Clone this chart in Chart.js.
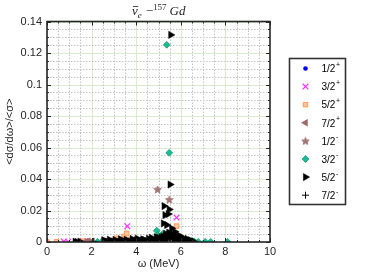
<!DOCTYPE html>
<html>
<head>
<meta charset="utf-8">
<script src="https://cdn.jsdelivr.net/npm/chart.js@4/dist/chart.umd.min.js"></script>
<style>
html,body{margin:0;padding:0;background:#fff;}
canvas{display:block;}
</style>
</head>
<body>
<canvas id="c" width="374" height="280"></canvas>
<script>
// ---- data (omega in MeV, normalized cross section) ----
const seriesLabels = ['1/2', '3/2', '5/2', '7/2', '1/2', '3/2', '5/2', '7/2'];
const seriesParity = ['+', '+', '+', '+', '-', '-', '-', '-'];

const s12p = [[1.7,0.0005],[3.3,0.0008],[4.4,0.0006],[5.1,0.001],[5.6,0.0012],[6.1,0.0004]];
const s32p = [[0.75,0.0003],[0.95,0.0002],[1.6,0.0006],[2.7,0.001],[3.6,0.0100],[3.5,0.0012],[4.6,0.0008],[5.3,0.002],[5.81,0.0155],[6.2,0.0005]];
const s52p = [[0,0],[0.43,0.0002],[1.6,0.0005],[1.9,0.0003],[2.6,0.0006],[3.12,0.0023],[3.45,0.0035],[3.57,0.0055],[3.7,0.0015],[5.81,0.0101],[5.9,0.004],[6.3,0.0012]];
const s72p = [[1.75,0.0003],[1.85,0.0005],[2.0,0.0002],[3.2,0.0008],[4.1,0.0005],[5.2,0.0015],[5.7,0.003]];
const s12m = [[4.96,0.0334],[5.48,0.027],[5.0,0.0008],[5.6,0.0015]];
const s32m = [[5.37,0.1252],[5.48,0.0566],[4.92,0.0072],[4.96,0.0044],[5.22,0.0055],[5.44,0.0055],[5.59,0.0065],[5.74,0.0055],
              [2.26,0.0001],[2.45,0.0003],[3.05,0.0008],[3.2,0.0005],[4.3,0.0006],[4.75,0.0012],[5.15,0.0023],
              [6.5,0.0008],[6.6,0.0003],[6.78,0.0001],[7.09,0.0001],[7.34,0.0001],[8.1,0.0001]];
const s52m = [[5.55,0.1315],[5.52,0.0365],[5.25,0.0228],[5.48,0.0207],[5.29,0.0171],[5.44,0.0177],[5.22,0.0118],[5.37,0.0108],
              [5.59,0.0087],[5.74,0.0065],[5.96,0.0038],[6.1,0.0025],[6.3,0.0012],
              [1.26,0.0002],[1.48,0.0003],[2.6,0.0004],[2.72,0.0002],[2.85,0.0006],[2.98,0.0003],[3.1,0.0005],[3.22,0.0002],
              [3.35,0.0007],[3.48,0.0004],[3.62,0.0009],[3.75,0.0003],[3.88,0.0006],[4.0,0.0011],[4.12,0.0004],[4.25,0.0008],
              [4.38,0.0013],[4.5,0.0005],[4.62,0.0010],[4.74,0.0016],[4.85,0.0007],[4.95,0.0020],[5.05,0.0012],[5.12,0.0030],
              [5.18,0.0018],[5.3,0.0040],[5.36,0.0025],[5.42,0.0033],[5.5,0.0045],[5.56,0.0028],[5.63,0.0038],[5.7,0.0022],
              [5.78,0.0030],[5.85,0.0015],[5.92,0.0024],[6.02,0.0010],[6.15,0.0014],[6.22,0.0006],[6.38,0.0004],[6.5,0.0002],[6.6,0.0001],
              [1.35,0.0001],[2.55,0.0012],[2.8,0.0015],[3.05,0.0013],[3.3,0.0018],[3.55,0.0014],[3.82,0.0019],[4.05,0.0022],
              [4.3,0.0017],[4.55,0.0021],[4.68,0.0027],[4.9,0.0031],[5.02,0.0026],[5.2,0.0035],[5.33,0.0052],[5.46,0.0060],
              [5.6,0.0050],[5.68,0.0044],[5.82,0.0041],[5.98,0.0029],[6.08,0.0019],[6.28,0.0020],[6.44,0.0011],[3.95,0.0002],
              [4.45,0.0001],[4.8,0.0002],[5.25,0.0003],[5.75,0.0002],[6.05,0.0001]];
const s72m = [[2.1,0.0004],[3.9,0.0007],[4.8,0.0009],[5.4,0.0012],[6.4,0.0003]];

const xTickValues = [0, 2, 4, 6, 8, 10];
const yTickValues = [0, 0.02, 0.04, 0.06, 0.08, 0.1, 0.12, 0.14];

// ---- star marker ----
function makeStar(size, fill, edge) {
  const cv = document.createElement('canvas');
  cv.width = size; cv.height = size;
  const g = cv.getContext('2d');
  const cx = size / 2, cy = size / 2 + 0.4, R = size / 2 - 0.5, r = R * 0.45;
  g.beginPath();
  for (let i = 0; i < 10; i++) {
    const a = -Math.PI / 2 + i * Math.PI / 5;
    const rr = i % 2 === 0 ? R : r;
    g.lineTo(cx + rr * Math.cos(a), cy + rr * Math.sin(a));
  }
  g.closePath();
  g.fillStyle = fill; g.fill();
  g.strokeStyle = edge; g.lineWidth = 0.6; g.stroke();
  return cv;
}
const starImg = makeStar(9, '#a47878', '#8a5a5a');

const toPts = arr => arr.map(p => ({x: p[0], y: p[1]}));

const styles = [
  {data: s12p, pointStyle: 'circle', radius: 2.3, bg: '#0000ff', bc: '#0000ff', bw: 0, rot: 0},
  {data: s32p, pointStyle: 'crossRot', radius: 4, bg: '#ff30ff', bc: '#ff30ff', bw: 1.2, rot: 0},
  {data: s52p, pointStyle: 'rect', radius: 3.2, bg: '#ffc49a', bc: '#ff9a5c', bw: 1, rot: 0},
  {data: s72p, pointStyle: 'triangle', radius: 4, bg: '#9c6868', bc: '#9c6868', bw: 0.5, rot: -90},
  {data: s12m, pointStyle: starImg, radius: 4.5, bg: '#a47878', bc: '#a47878', bw: 0, rot: 0},
  {data: s32m, pointStyle: 'rectRot', radius: 3.4, bg: '#1cb8a0', bc: '#12a050', bw: 0.8, rot: 0},
  {data: s52m, pointStyle: 'triangle', radius: 4.2, bg: '#000000', bc: '#000000', bw: 0.5, rot: 90},
  {data: s72m, pointStyle: 'cross', radius: 3.5, bg: '#000000', bc: '#000000', bw: 1, rot: 0}
];

const datasets = styles.map((s, i) => ({
  label: seriesLabels[i] + seriesParity[i],
  data: toPts(s.data),
  showLine: false,
  pointStyle: s.pointStyle,
  pointRadius: s.radius,
  pointRotation: s.rot,
  pointBackgroundColor: s.bg,
  pointBorderColor: s.bc,
  pointBorderWidth: s.bw,
  order: 8 - i
}));

const AX = '#262626';

const axesPlugin = {
  id: 'matlabAxes',
  beforeDatasetsDraw(chart) {
    const {ctx, chartArea: a} = chart;
    const xs = chart.scales.x, ys = chart.scales.y;
    ctx.save();
    ctx.beginPath(); ctx.rect(a.left, a.top, a.right - a.left, a.bottom - a.top); ctx.clip();
    // major grid (light green)
    ctx.strokeStyle = '#d9ecce'; ctx.lineWidth = 1; ctx.setLineDash([]);
    xTickValues.forEach(v => { const p = Math.round(xs.getPixelForValue(v)) + 0.5; ctx.beginPath(); ctx.moveTo(p, a.top); ctx.lineTo(p, a.bottom); ctx.stroke(); });
    yTickValues.forEach(v => { const p = Math.round(ys.getPixelForValue(v)) + 0.5; ctx.beginPath(); ctx.moveTo(a.left, p); ctx.lineTo(a.right, p); ctx.stroke(); });
    // minor grid (dotted gray)
    ctx.strokeStyle = '#c4c4c4'; ctx.setLineDash([1.5, 1.5]);
    for (let k = 1; k < 20; k++) {
      if (k % 4 === 0) continue;
      const p = Math.round(xs.getPixelForValue(k * 0.5)) + 0.5;
      ctx.beginPath(); ctx.moveTo(p, a.top); ctx.lineTo(p, a.bottom); ctx.stroke();
    }
    for (let k = 1; k < 28; k++) {
      if (k % 4 === 0) continue;
      const p = Math.round(ys.getPixelForValue(k * 0.005)) + 0.5;
      ctx.beginPath(); ctx.moveTo(a.left, p); ctx.lineTo(a.right, p); ctx.stroke();
    }
    ctx.restore();
  },
  afterDatasetsDraw(chart) {
    const {ctx, chartArea: a} = chart;
    const xs = chart.scales.x, ys = chart.scales.y;
    ctx.save();
    ctx.strokeStyle = AX; ctx.setLineDash([]);
    ctx.lineWidth = 1;
    for (let k = 0; k <= 20; k++) {
      const len = k % 4 === 0 ? 4 : 2;
      const p = Math.round(xs.getPixelForValue(k * 0.5)) + 0.5;
      ctx.beginPath();
      ctx.moveTo(p, a.bottom); ctx.lineTo(p, a.bottom - len);
      ctx.moveTo(p, a.top); ctx.lineTo(p, a.top + len);
      ctx.stroke();
    }
    for (let k = 0; k <= 28; k++) {
      const len = k % 4 === 0 ? 4 : 2;
      const p = Math.round(ys.getPixelForValue(k * 0.005)) + 0.5;
      ctx.beginPath();
      ctx.moveTo(a.left, p); ctx.lineTo(a.left + len, p);
      ctx.moveTo(a.right, p); ctx.lineTo(a.right - len, p);
      ctx.stroke();
    }
    ctx.lineWidth = 1.6;
    ctx.strokeRect(a.left, a.top, a.right - a.left, a.bottom - a.top);
    ctx.restore();
  },
  afterDraw(chart) {
    const {ctx} = chart;
    ctx.save();
    // ---- title ----
    ctx.fillStyle = AX; ctx.textBaseline = 'alphabetic'; ctx.textAlign = 'left';
    let x = 132; const by = 15;
    const big = 'italic 13px "Liberation Serif"';
    const up = '13px "Liberation Serif"';
    ctx.font = big;
    ctx.fillText('ν', x, by);
    const wnu = ctx.measureText('ν').width;
    ctx.beginPath(); ctx.lineWidth = 0.8; ctx.strokeStyle = AX;
    ctx.moveTo(x + 1, by - 8.5); ctx.lineTo(x + wnu + 0.5, by - 8.5); ctx.stroke();
    x += wnu;
    ctx.font = 'italic 9px "Liberation Serif"';
    ctx.fillText('e', x, by + 2.5);
    x += ctx.measureText('e').width + 4;
    ctx.font = up;
    ctx.fillText('\u2212', x, by);
    x += ctx.measureText('\u2212').width;
    ctx.font = '9px "Liberation Serif"';
    ctx.fillText('157', x, by - 5);
    x += ctx.measureText('157').width + 3;
    ctx.font = big;
    ctx.fillText('Gd', x, by);

    // ---- legend ----
    const L = 289.5, T = 58.5, W = 56, H = 146;
    ctx.fillStyle = '#ffffff';
    ctx.fillRect(L, T, W, H);
    ctx.lineWidth = 1.6; ctx.strokeStyle = '#333333';
    ctx.strokeRect(L, T, W, H);
    chart.data.datasets.forEach((ds, i) => {
      const y = 68.5 + i * 18.1;
      const mx = 305.5;
      const st = styles[i];
      ctx.save();
      ctx.fillStyle = st.bg; ctx.strokeStyle = st.bc; ctx.lineWidth = st.bw;
      if (Chart.helpers && Chart.helpers.drawPoint) {
        Chart.helpers.drawPoint(ctx, {pointStyle: st.pointStyle, radius: st.radius, rotation: st.rot, borderWidth: st.bw}, mx, y);
      }
      ctx.restore();
      ctx.fillStyle = '#000000';
      ctx.font = '10px "Liberation Sans"';
      ctx.textBaseline = 'middle'; ctx.textAlign = 'left';
      const t = seriesLabels[i];
      ctx.fillText(t, 321.5, y + 1);
      const tw = ctx.measureText(t).width;
      ctx.font = '7px "Liberation Sans"';
      ctx.fillText(seriesParity[i] === '+' ? '+' : '-', 321.5 + tw + 0.5, y - 3.5);
    });
    ctx.restore();
  }
};

new Chart(document.getElementById('c'), {
  type: 'scatter',
  data: {datasets},
  options: {
    responsive: false,
    animation: false,
    events: [],
    layout: {padding: {top: 21.5, right: 104, left: 0, bottom: 0}},
    plugins: {legend: {display: false}, tooltip: {enabled: false}, title: {display: false}},
    scales: {
      x: {
        type: 'linear', min: 0, max: 10,
        afterFit: s => { s.height = 38; },
        afterBuildTicks: s => { s.ticks = xTickValues.map(v => ({value: v})); },
        grid: {display: false, drawTicks: false},
        border: {display: false},
        ticks: {font: {family: 'Liberation Sans', size: 11}, color: AX, padding: 3, maxRotation: 0,
                callback: v => String(v)},
        title: {display: true, text: 'ω (MeV)', font: {family: 'Liberation Sans', size: 11}, color: AX,
                padding: {top: 0, bottom: 9}}
      },
      y: {
        type: 'linear', min: 0, max: 0.14,
        afterFit: s => { s.width = 47; },
        afterBuildTicks: s => { s.ticks = yTickValues.map(v => ({value: v})); },
        grid: {display: false, drawTicks: false},
        border: {display: false},
        ticks: {font: {family: 'Liberation Sans', size: 11}, color: AX, padding: 5,
                callback: v => String(Math.round(v * 100) / 100)},
        title: {display: true, text: '<dσ/dω>/<σ>', font: {family: 'Liberation Sans', size: 11}, color: AX,
                padding: {top: 3, bottom: 0}}
      }
    }
  },
  plugins: [axesPlugin]
});
</script>
</body>
</html>
